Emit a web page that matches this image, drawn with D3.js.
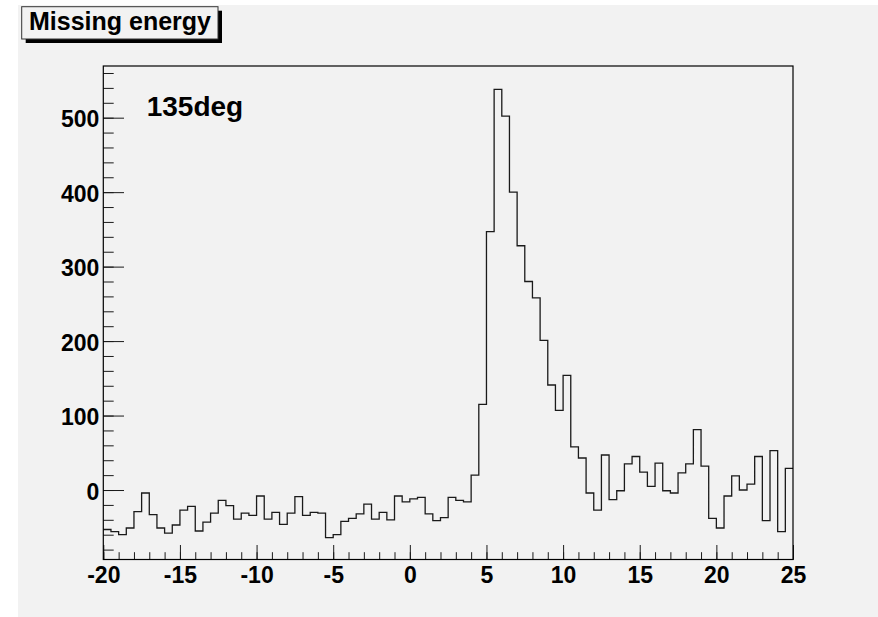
<!DOCTYPE html>
<html>
<head>
<meta charset="utf-8">
<script src="https://cdn.jsdelivr.net/npm/d3@7"></script>
<style>
  body { margin: 0; background: #fff; }
  svg text { font-family: "Liberation Sans", Arial, Helvetica, sans-serif; font-weight: bold; fill: #000; }
</style>
</head>
<body>
<svg id="chart"></svg>
<script>
// histogram: 90 bins of 0.5 from -20 to 25
const xMin = -20;
const xMax = 25;
const binWidth = 0.5;
const counts = [
  -53, -56, -60, -51, -29, -4, -33, -51, -58, -47, -27, -22, -55, -43, -31, -14, -21, -39, -31, -34,
  -8, -39, -30, -46, -31, -9, -34, -30, -31, -64, -60, -42, -38, -32, -19, -39, -30, -40, -8, -16,
  -12, -10, -32, -41, -37, -10, -14, -16, 20, 115, 347, 538, 502, 400, 328, 280, 258, 201, 141, 107,
  154, 58, 43, -4, -27, 47, -13, -1, 35, 45, 24, 5, 36, -1, -4, 23, 35, 81, 32, -38,
  -51, -8, 19, 0, 8, 45, -41, 53, -56, 29
];
const xMajorTicks = [-20, -15, -10, -5, 0, 5, 10, 15, 20, 25];
const yMajorTicks = [0, 100, 200, 300, 400, 500];
const yDomain = [-93.3, 569.4];
const title = 'Missing energy';
const label = '135deg';

const width = 878;
const height = 617;
const frame = { left: 103.3, right: 793, top: 66, bottom: 559.5 };

const svg = d3.select('#chart')
  .attr('width', width)
  .attr('height', height);

// canvas background
svg.append('rect')
   .attr('x', 18).attr('y', 5)
   .attr('width', width - 18).attr('height', height - 5)
   .attr('fill', '#f2f2f2');

const x = d3.scaleLinear().domain([xMin, xMax]).range([frame.left, frame.right]);
const y = d3.scaleLinear().domain(yDomain).range([frame.bottom, frame.top]);

// step outline
const points = counts.map((c, i) => [xMin + i * binWidth, c]);
points.push([xMax, counts[counts.length - 1]]);

const line = d3.line()
  .x(d => x(d[0]))
  .y(d => y(d[1]))
  .curve(d3.curveStepAfter);

svg.append('path')
   .datum(points)
   .attr('d', line)
   .attr('fill', 'none')
   .attr('stroke', '#1a1a1a')
   .attr('stroke-width', 1.3);

// minor ticks
const xMinor = d3.range(xMin, xMax + 0.001, 1);
const yMinor = d3.range(-80, 569, 20);

svg.append('g')
   .attr('transform', 'translate(0,' + frame.bottom + ')')
   .call(d3.axisBottom(x).tickValues(xMinor).tickSize(-7.3).tickFormat(''))
   .call(g => g.select('.domain').remove())
   .call(g => g.selectAll('line').attr('stroke', '#1a1a1a'));

svg.append('g')
   .attr('transform', 'translate(' + frame.left + ',0)')
   .call(d3.axisLeft(y).tickValues(yMinor).tickSize(-10.4).tickFormat(''))
   .call(g => g.select('.domain').remove())
   .call(g => g.selectAll('line').attr('stroke', '#1a1a1a'));

// major ticks + labels
const xAxis = svg.append('g')
   .attr('id', 'x-axis')
   .attr('transform', 'translate(0,' + frame.bottom + ')')
   .call(d3.axisBottom(x).tickValues(xMajorTicks).tickSize(-14.5).tickPadding(7.5))
   .call(g => g.select('.domain').remove());
xAxis.selectAll('line').attr('stroke', '#1a1a1a');
xAxis.selectAll('text').style('font-size', '23px').attr('fill', '#000');
xAxis.selectAll('text').text(d => d < 0 ? '-' + Math.abs(d) : d);

const yAxis = svg.append('g')
   .attr('id', 'y-axis')
   .attr('transform', 'translate(' + frame.left + ',0)')
   .call(d3.axisLeft(y).tickValues(yMajorTicks).tickSize(-20.7).tickPadding(4))
   .call(g => g.select('.domain').remove());
yAxis.selectAll('line').attr('stroke', '#1a1a1a');
yAxis.selectAll('text').style('font-size', '23px').attr('dy', '0.4em').attr('fill', '#000');

// frame
svg.append('rect')
   .attr('x', frame.left).attr('y', frame.top)
   .attr('width', frame.right - frame.left).attr('height', frame.bottom - frame.top)
   .attr('fill', 'none')
   .attr('stroke', '#000')
   .attr('stroke-width', 1.2);

// title box with shadow
svg.append('rect')
   .attr('x', 25.7).attr('y', 10.7)
   .attr('width', 196.3).attr('height', 32.3)
   .attr('fill', '#000');
svg.append('rect')
   .attr('x', 21.7).attr('y', 6.7)
   .attr('width', 196.3).attr('height', 32.3)
   .attr('fill', '#f2f2f2')
   .attr('stroke', '#333')
   .attr('stroke-width', 1);
svg.append('text')
   .attr('x', 29).attr('y', 30)
   .style('font-size', '25px')
   .text(title);

svg.append('text')
   .attr('x', 146.7).attr('y', 116)
   .style('font-size', '28px')
   .text(label);
</script>
</body>
</html>
